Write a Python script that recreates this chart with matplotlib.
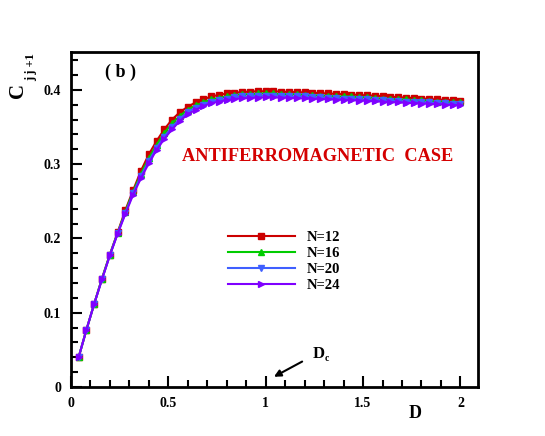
import matplotlib
matplotlib.use("Agg")
import matplotlib.pyplot as plt
from matplotlib.ticker import MultipleLocator, FuncFormatter

plt.rcParams['font.family'] = ['Liberation Serif', 'DejaVu Serif']
plt.rcParams['font.weight'] = 'bold'

# data: D values and nearest-neighbour correlation C_{j,j+1}
D = [0.04, 0.08, 0.12, 0.16, 0.20, 0.24, 0.28, 0.32, 0.36, 0.40,
     0.44, 0.48, 0.52, 0.56, 0.60, 0.64, 0.68, 0.72, 0.76, 0.80,
     0.84, 0.88, 0.92, 0.96, 1.00, 1.04, 1.08, 1.12, 1.16, 1.20,
     1.24, 1.28, 1.32, 1.36, 1.40, 1.44, 1.48, 1.52, 1.56, 1.60,
     1.64, 1.68, 1.72, 1.76, 1.80, 1.84, 1.88, 1.92, 1.96, 2.00]

c_n12 = [0.040, 0.077, 0.112, 0.146, 0.178, 0.208, 0.238, 0.265, 0.291, 0.313,
         0.331, 0.347, 0.360, 0.370, 0.377, 0.383, 0.387, 0.391, 0.393, 0.395,
         0.396, 0.397, 0.3975, 0.398, 0.398, 0.398, 0.3975, 0.397, 0.3968, 0.3965,
         0.396, 0.3955, 0.395, 0.3945, 0.394, 0.3935, 0.393, 0.3925, 0.392, 0.3913,
         0.3906, 0.390, 0.3894, 0.3888, 0.3882, 0.3876, 0.387, 0.3865, 0.386, 0.3855]

c_n16 = [0.040, 0.077, 0.112, 0.146, 0.178, 0.207, 0.236, 0.263, 0.287, 0.308,
         0.326, 0.342, 0.355, 0.365, 0.373, 0.379, 0.383, 0.387, 0.389, 0.391,
         0.393, 0.394, 0.394, 0.395, 0.395, 0.395, 0.394, 0.394, 0.394, 0.393,
         0.393, 0.392, 0.392, 0.391, 0.391, 0.391, 0.390, 0.390, 0.389, 0.388,
         0.388, 0.387, 0.387, 0.386, 0.386, 0.385, 0.384, 0.384, 0.383, 0.383]

c_n20 = [0.040, 0.077, 0.112, 0.145, 0.177, 0.207, 0.234, 0.261, 0.284, 0.304,
         0.322, 0.337, 0.350, 0.361, 0.370, 0.376, 0.380, 0.384, 0.386, 0.388,
         0.390, 0.391, 0.391, 0.392, 0.392, 0.392, 0.392, 0.391, 0.391, 0.391,
         0.390, 0.390, 0.389, 0.389, 0.388, 0.388, 0.387, 0.387, 0.386, 0.386,
         0.385, 0.385, 0.384, 0.384, 0.383, 0.383, 0.382, 0.382, 0.381, 0.381]

c_n24 = [0.040, 0.077, 0.112, 0.145, 0.177, 0.206, 0.233, 0.259, 0.281, 0.301,
         0.319, 0.334, 0.347, 0.358, 0.367, 0.373, 0.378, 0.382, 0.384, 0.386,
         0.3875, 0.3885, 0.389, 0.3895, 0.3897, 0.3897, 0.3895, 0.389, 0.3887, 0.3884,
         0.388, 0.3876, 0.3872, 0.3868, 0.3864, 0.386, 0.3855, 0.385, 0.3845, 0.384,
         0.3835, 0.383, 0.3825, 0.382, 0.3815, 0.381, 0.3805, 0.380, 0.3795, 0.379]

series = [
    ("N=12", c_n12, "#cc0000", "s"),
    ("N=16", c_n16, "#00cc00", "^"),
    ("N=20", c_n20, "#3f5fff", "v"),
    ("N=24", c_n24, "#7f00ff", ">"),
]

fig = plt.figure(figsize=(5.45, 4.36), dpi=100)
ax = fig.add_axes([0.130, 0.1124, 0.747, 0.7686])

for label, vals, col, mk in series:
    ax.plot(D, vals, color=col, marker=mk, markersize=4.8, linewidth=1.5,
            label=label)

ax.set_xlim(0, 2.09)
ax.set_ylim(0, 0.451)

ax.xaxis.set_major_locator(MultipleLocator(0.5))
ax.xaxis.set_minor_locator(MultipleLocator(0.1))
ax.yaxis.set_major_locator(MultipleLocator(0.1))
ax.yaxis.set_minor_locator(MultipleLocator(0.02))
ax.xaxis.set_major_formatter(FuncFormatter(lambda v, p: "%g" % round(v, 2)))
ax.yaxis.set_major_formatter(FuncFormatter(lambda v, p: "%g" % round(v, 2)))

ax.tick_params(which='both', direction='in', top=False, right=False,
               width=1.5, labelsize=10)
ax.tick_params(which='major', length=8, pad=7)
ax.tick_params(which='minor', length=5)
for lab in ax.get_xticklabels() + ax.get_yticklabels():
    lab.set_fontweight('bold')
for sp in ax.spines.values():
    sp.set_linewidth(2)

# axis labels
fig.text(18 / 545, 1 - 90 / 436, "C", rotation=90, fontsize=15,
         fontweight='bold', ha='center', va='center')
fig.text(31 / 545, 1 - 67 / 436, "j j +1", rotation=90, fontsize=9,
         fontweight='bold', ha='center', va='center')
fig.text(415 / 545, 1 - 413 / 436, "D", fontsize=13, fontweight='bold',
         ha='center', va='center')

ax.text(0.256, 0.424, "( b )", fontsize=13, fontweight='bold',
        ha='center', va='center')
ax.text(1.265, 0.310, "ANTIFERROMAGNETIC  CASE", fontsize=13.2,
        fontweight='bold', color='#d40000', ha='center', va='center')

ax.annotate("", xy=(1.03, 0.012), xytext=(1.20, 0.036),
            arrowprops=dict(arrowstyle='-|>', color='black', lw=1.5,
                            mutation_scale=10))
ax.text(1.24, 0.044, "D", fontsize=12, fontweight='bold',
        ha='left', va='center')
ax.text(1.305, 0.038, "c", fontsize=7, fontweight='bold',
        ha='left', va='center')

leg = ax.legend(loc='upper left', bbox_to_anchor=(0.353, 0.505), frameon=False,
                handlelength=4.6, fontsize=10.5, labelspacing=0.2,
                handletextpad=0.8)
for t in leg.get_texts():
    t.set_fontweight('bold')

fig.savefig("out.png", dpi=100)
